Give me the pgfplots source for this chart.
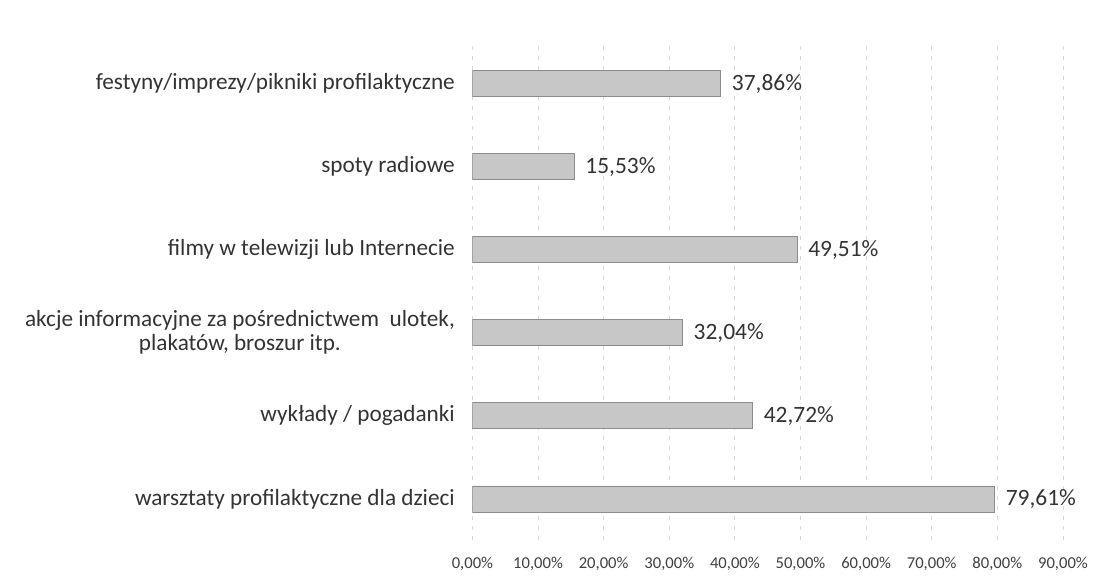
\documentclass[border=0pt]{standalone}
\usepackage{pgfplots}
\pgfplotsset{compat=1.18}
\usepackage{fontspec}
\setmainfont{Carlito}

\begin{document}
\begin{tikzpicture}
\begin{axis}[
  xbar,
  scale only axis,
  width=295pt, height=249pt,
  xmin=0, xmax=90,
  ymin=-0.5, ymax=5.5,
  bar width=13pt,
  axis line style={draw=none},
  major tick style={draw=none},
  xmajorgrids,
  major grid style={draw=gray!30, dash pattern=on 2pt off 3pt},
  xtick={0,10,...,90},
  xticklabels={{0,00\%},{10,00\%},{20,00\%},{30,00\%},{40,00\%},{50,00\%},{60,00\%},{70,00\%},{80,00\%},{90,00\%}},
  xticklabel style={font=\fontsize{8.3}{10}\selectfont, text=black!75, yshift=-5pt},
  ytick={0,1,2,3,4,5},
  yticklabels={
    warsztaty profilaktyczne dla dzieci,
    wykłady / pogadanki,
    {akcje informacyjne za pośrednictwem\ \ ulotek,\\plakatów, broszur itp.},
    filmy w telewizji lub Internecie,
    spoty radiowe,
    festyny/imprezy/pikniki profilaktyczne},
  yticklabel style={font=\fontsize{11.6}{12}\selectfont, align=center, text=black!80, xshift=-1pt},
  /pgf/number format/assume math mode=true,
  point meta=x,
  nodes near coords={\pgfmathprintnumber[fixed,fixed zerofill,precision=2,use comma]{\pgfplotspointmeta}\%},
  nodes near coords style={font=\fontsize{11.7}{13}\selectfont, text=black!80, anchor=west, xshift=2pt},
]
\addplot[fill=black!22, draw=black!45, line width=0.4pt] coordinates {
  (79.61,0) (42.72,1) (32.04,2) (49.51,3) (15.53,4) (37.86,5)
};
\end{axis}
\path (current axis.south west) ++(-236pt,-18pt) coordinate (bl);
\path (current axis.north east) ++(22pt,21pt) coordinate (tr);
\pgfresetboundingbox
\path[use as bounding box] (bl) rectangle (tr);
\end{tikzpicture}
\end{document}
